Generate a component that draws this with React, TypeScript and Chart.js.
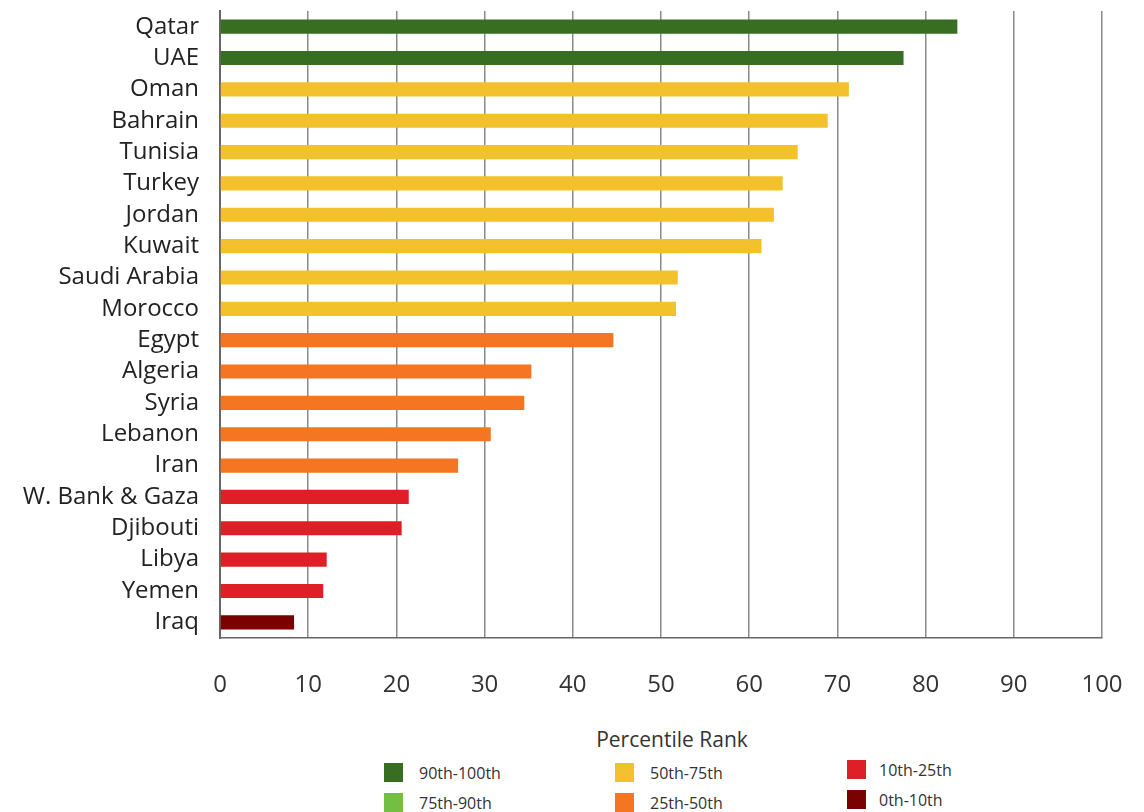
import React, { useEffect, useRef } from "react";
import { Chart, registerables } from "chart.js";

Chart.register(...registerables);

const countries = [
  "Qatar", "UAE", "Oman", "Bahrain", "Tunisia", "Turkey", "Jordan", "Kuwait",
  "Saudi Arabia", "Morocco", "Egypt", "Algeria", "Syria", "Lebanon", "Iran",
  "W. Bank & Gaza", "Djibouti", "Libya", "Yemen", "Iraq",
];
const percentileRank = [
  83.6, 77.5, 71.3, 68.9, 65.5, 63.8, 62.8, 61.4, 51.9, 51.7,
  44.6, 35.3, 34.5, 30.7, 27.0, 21.4, 20.6, 12.1, 11.7, 8.4,
];
const bandOfCountry = [
  "90th-100th", "90th-100th", "50th-75th", "50th-75th", "50th-75th", "50th-75th",
  "50th-75th", "50th-75th", "50th-75th", "50th-75th", "25th-50th", "25th-50th",
  "25th-50th", "25th-50th", "25th-50th", "10th-25th", "10th-25th", "10th-25th",
  "10th-25th", "0th-10th",
];
const bandLabels = ["90th-100th", "75th-90th", "50th-75th", "25th-50th", "10th-25th", "0th-10th"];
const bandColors = ["#376E21", "#74BF43", "#F2C12B", "#F47622", "#DF1F27", "#7B0000"];
const xTicks = [0, 10, 20, 30, 40, 50, 60, 70, 80, 90, 100];

const FONT = "'Open Sans', Lato, sans-serif";

export default function App() {
  const ref = useRef<HTMLCanvasElement | null>(null);

  useEffect(() => {
    if (!ref.current) return;
    const colorFor = (b: string) => bandColors[bandLabels.indexOf(b)];
    const chart = new Chart(ref.current, {
      type: "bar",
      data: {
        labels: countries,
        datasets: [
          {
            data: percentileRank,
            backgroundColor: bandOfCountry.map(colorFor),
            borderWidth: 0,
            categoryPercentage: 1,
            barPercentage: 0.45,
          },
        ],
      },
      options: {
        indexAxis: "y",
        animation: false,
        responsive: false,
        maintainAspectRatio: false,
        layout: { padding: { top: 11, right: 42, left: 0, bottom: 0 } },
        plugins: { legend: { display: false }, tooltip: { enabled: false } },
        scales: {
          x: {
            type: "linear",
            min: 0,
            max: 100,
            afterBuildTicks: (scale: any) => {
              scale.ticks = xTicks.map((v) => ({ value: v }));
            },
            afterFit: (scale: any) => {
              scale.height = 74;
              scale.paddingLeft = 0;
              scale.paddingRight = 0;
            },
            grid: {
              color: "#8a8a8a",
              lineWidth: 1.5,
              drawTicks: false,
            },
            border: { color: "#666", width: 1.5 },
            ticks: {
              padding: 33,
              color: "#333",
              font: { family: FONT, size: 24 },
            },
          },
          y: {
            afterFit: (scale: any) => {
              scale.width = 220;
              scale.paddingTop = 0;
              scale.paddingBottom = 0;
            },
            grid: { display: false, drawTicks: false },
            border: { color: "#666", width: 2 },
            ticks: {
              padding: 21,
              color: "#222",
              font: { family: FONT, size: 24 },
              autoSkip: false,
            },
          },
        },
      },
    });
    return () => chart.destroy();
  }, []);

  const legendCols = [
    { left: 384, items: [0, 1] },
    { left: 615, items: [2, 3] },
    { left: 847, items: [4, 5] },
  ];

  return (
    <div
      style={{
        position: "absolute",
        left: 0,
        top: 0,
        width: 1144,
        height: 812,
        overflow: "hidden",
        background: "#fff",
        fontFamily: FONT,
      }}
    >
      <canvas ref={ref} width={1144} height={712} style={{ display: "block", width: 1144, height: 712 }} />
      <div
        style={{
          position: "absolute",
          top: 725,
          left: 0,
          width: 1344,
          textAlign: "center",
          fontSize: 21,
          color: "#333",
        }}
      >
        Percentile Rank
      </div>
      {legendCols.map((col, ci) =>
        col.items.map((idx, ri) => (
          <div
            key={idx}
            style={{
              position: "absolute",
              left: col.left,
              top: 763 + ri * 30 - (ci === 2 ? 3 : 0),
              display: "flex",
              alignItems: "center",
              height: 19,
            }}
          >
            <div style={{ width: 19, height: 19, background: bandColors[idx] }} />
            <span style={{ marginLeft: ci === 2 ? 13 : 16, fontSize: 16, color: "#333" }}>{bandLabels[idx]}</span>
          </div>
        ))
      )}
    </div>
  );
}
